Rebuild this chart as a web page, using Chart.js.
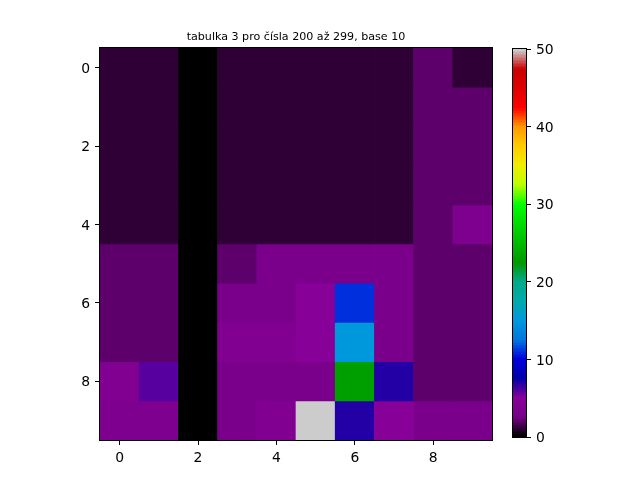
<!DOCTYPE html>
<html>
<head>
<meta charset="utf-8">
<script src="https://cdn.jsdelivr.net/npm/chart.js@4/dist/chart.umd.min.js"></script>
<style>
  body { margin: 0; background: #fff; }
  #wrap { position: relative; width: 640px; height: 480px; }
  #main { position: absolute; left: 0; top: 0; }
  #cbar { position: absolute; left: 492px; top: 0; }
</style>
</head>
<body>
<div id="wrap">
  <canvas id="main" width="640" height="480"></canvas>
  <canvas id="cbar" width="148" height="480"></canvas>
</div>
<script>
const title = "tabulka 3 pro čísla 200 až 299, base 10";

//. Cell values, one array per row (row 0 at the top)
const row0 = [1, 1, 0, 1, 1, 1, 1, 1, 2, 1];
const row1 = [1, 1, 0, 1, 1, 1, 1, 1, 2, 2];
const row2 = [1, 1, 0, 1, 1, 1, 1, 1, 2, 2];
const row3 = [1, 1, 0, 1, 1, 1, 1, 1, 2, 2];
const row4 = [1, 1, 0, 1, 1, 1, 1, 1, 2, 3.5];
const row5 = [2, 2, 0, 2, 3, 3, 3, 3, 2, 2];
const row6 = [2, 2, 0, 3, 3, 5, 11, 3, 2, 2];
const row7 = [2, 2, 0, 4, 4, 5, 15, 3, 2, 2];
const row8 = [4, 6, 0, 3, 3, 3, 23, 7, 2, 2];
const row9 = [3.5, 3.5, 0, 3, 4, 50, 7, 5, 3, 3];
const grid = [row0, row1, row2, row3, row4, row5, row6, row7, row8, row9];

const xTicks = [0, 2, 4, 6, 8];
const yTicks = [0, 2, 4, 6, 8];
const cbTicks = [0, 10, 20, 30, 40, 50];
const vmin = 0, vmax = 50;

//. nipy_spectral segment data
const cmapX = [0, .05, .1, .15, .2, .25, .3, .35, .4, .45, .5, .55, .6, .65, .7, .75, .8, .85, .9, .95, 1];
const cmapR = [0, .4667, .5333, 0, 0, 0, 0, 0, 0, 0, 0, 0, 0, .7333, .9333, 1, 1, 1, .8667, .8, .8];
const cmapG = [0, 0, 0, 0, 0, .4667, .6, .6667, .6667, .6, .7333, .8667, 1, 1, .9333, .8, .6, 0, 0, 0, .8];
const cmapB = [0, .5333, .6, .6667, .8667, .8667, .8667, .6667, .5333, 0, 0, 0, 0, 0, 0, 0, 0, 0, 0, 0, .8];

function interp(arr, t) {
  for (let i = 1; i < cmapX.length; i++) {
    if (t <= cmapX[i]) {
      const f = (t - cmapX[i - 1]) / (cmapX[i] - cmapX[i - 1]);
      return arr[i - 1] + (arr[i] - arr[i - 1]) * f;
    }
  }
  return arr[arr.length - 1];
}

function colorOf(v) {
  let t = (v - vmin) / (vmax - vmin);
  t = Math.min(1, Math.max(0, t));
  // same 256 step lookup table as matplotlib
  const idx = Math.min(255, Math.floor(t * 256));
  const s = idx / 255;
  const r = Math.round(interp(cmapR, s) * 255),
    g = Math.round(interp(cmapG, s) * 255),
    b = Math.round(interp(cmapB, s) * 255);
  return `rgb(${r},${g},${b})`;
}

//. One floating bar dataset per row
const datasets = grid.map((vals, r) => ({
  data: vals.map((v, c) => ({ x: c, y: [r - 0.5, r + 0.5] })),
  backgroundColor: vals.map((v) => colorOf(v)),
  borderWidth: 0,
  grouped: false,
  barPercentage: 1,
  categoryPercentage: 1,
}));

const font = { family: "DejaVu Sans", size: 13.9 };

const framePlugin = {
  id: "frame",
  afterDraw(chart) {
    const { ctx, chartArea: a } = chart;
    ctx.save();
    ctx.strokeStyle = "#000";
    ctx.lineWidth = 1;
    ctx.strokeRect(a.left - 0.5, a.top - 0.5, a.right - a.left + 1, a.bottom - a.top + 1);
    ctx.fillStyle = "#000";
    ctx.font = '11.1px "DejaVu Sans"';
    ctx.textAlign = "center";
    ctx.textBaseline = "alphabetic";
    ctx.fillText(title, (a.left + a.right) / 2, a.top - 8.5);
    ctx.restore();
  },
};

new Chart(document.getElementById("main"), {
  type: "bar",
  data: { datasets },
  options: {
    responsive: false,
    animation: false,
    layout: { padding: { left: 0, right: 148, top: 48, bottom: 0 } },
    plugins: { legend: { display: false }, tooltip: { enabled: false } },
    scales: {
      x: {
        type: "linear",
        min: -0.5,
        max: 9.5,
        offset: false,
        afterBuildTicks: (s) => { s.ticks = xTicks.map((v) => ({ value: v })); },
        afterFit: (s) => { s.height = 40; },
        ticks: { color: "#000", font, padding: 5, autoSkip: false, maxRotation: 0 },
        grid: { offset: false, drawOnChartArea: false, tickLength: 5, tickColor: "#000", tickWidth: 1 },
        border: { display: false },
      },
      y: {
        type: "linear",
        min: -0.5,
        max: 9.5,
        reverse: true,
        afterBuildTicks: (s) => { s.ticks = yTicks.map((v) => ({ value: v })); },
        afterFit: (s) => { s.width = 100; },
        ticks: { color: "#000", font, padding: 5, autoSkip: false, labelOffset: 1.5 },
        grid: { offset: false, drawOnChartArea: false, tickLength: 5, tickColor: "#000", tickWidth: 1 },
        border: { display: false },
      },
    },
  },
  plugins: [framePlugin],
});

//. Colorbar as a second chart with its own value scale
const gradientPlugin = {
  id: "gradient",
  beforeDatasetsDraw(chart) {
    const { ctx, chartArea: a, scales } = chart;
    const sc = scales.y;
    ctx.save();
    for (let py = Math.floor(a.top); py < a.bottom; py++) {
      ctx.fillStyle = colorOf(sc.getValueForPixel(py + 0.5));
      ctx.fillRect(a.left, py, a.right - a.left, 1);
    }
    ctx.strokeStyle = "#000";
    ctx.lineWidth = 1;
    ctx.strokeRect(a.left - 0.5, a.top - 0.5, a.right - a.left + 1, a.bottom - a.top + 1);
    ctx.restore();
  },
};

new Chart(document.getElementById("cbar"), {
  type: "scatter",
  data: { datasets: [{ data: [] }] },
  options: {
    responsive: false,
    animation: false,
    layout: { padding: { left: 21, right: 74, top: 49, bottom: 43 } },
    plugins: { legend: { display: false }, tooltip: { enabled: false } },
    scales: {
      x: { display: false, min: 0, max: 1 },
      y: {
        position: "right",
        min: vmin,
        max: vmax,
        afterBuildTicks: (s) => { s.ticks = cbTicks.map((v) => ({ value: v })); },
        afterFit: (s) => { s.width = 40; },
        ticks: { color: "#000", font, padding: 5, labelOffset: 1.5 },
        grid: { drawOnChartArea: false, tickLength: 5, tickColor: "#000", tickWidth: 1 },
        border: { display: false },
      },
    },
  },
  plugins: [gradientPlugin],
});
</script>
</body>
</html>
